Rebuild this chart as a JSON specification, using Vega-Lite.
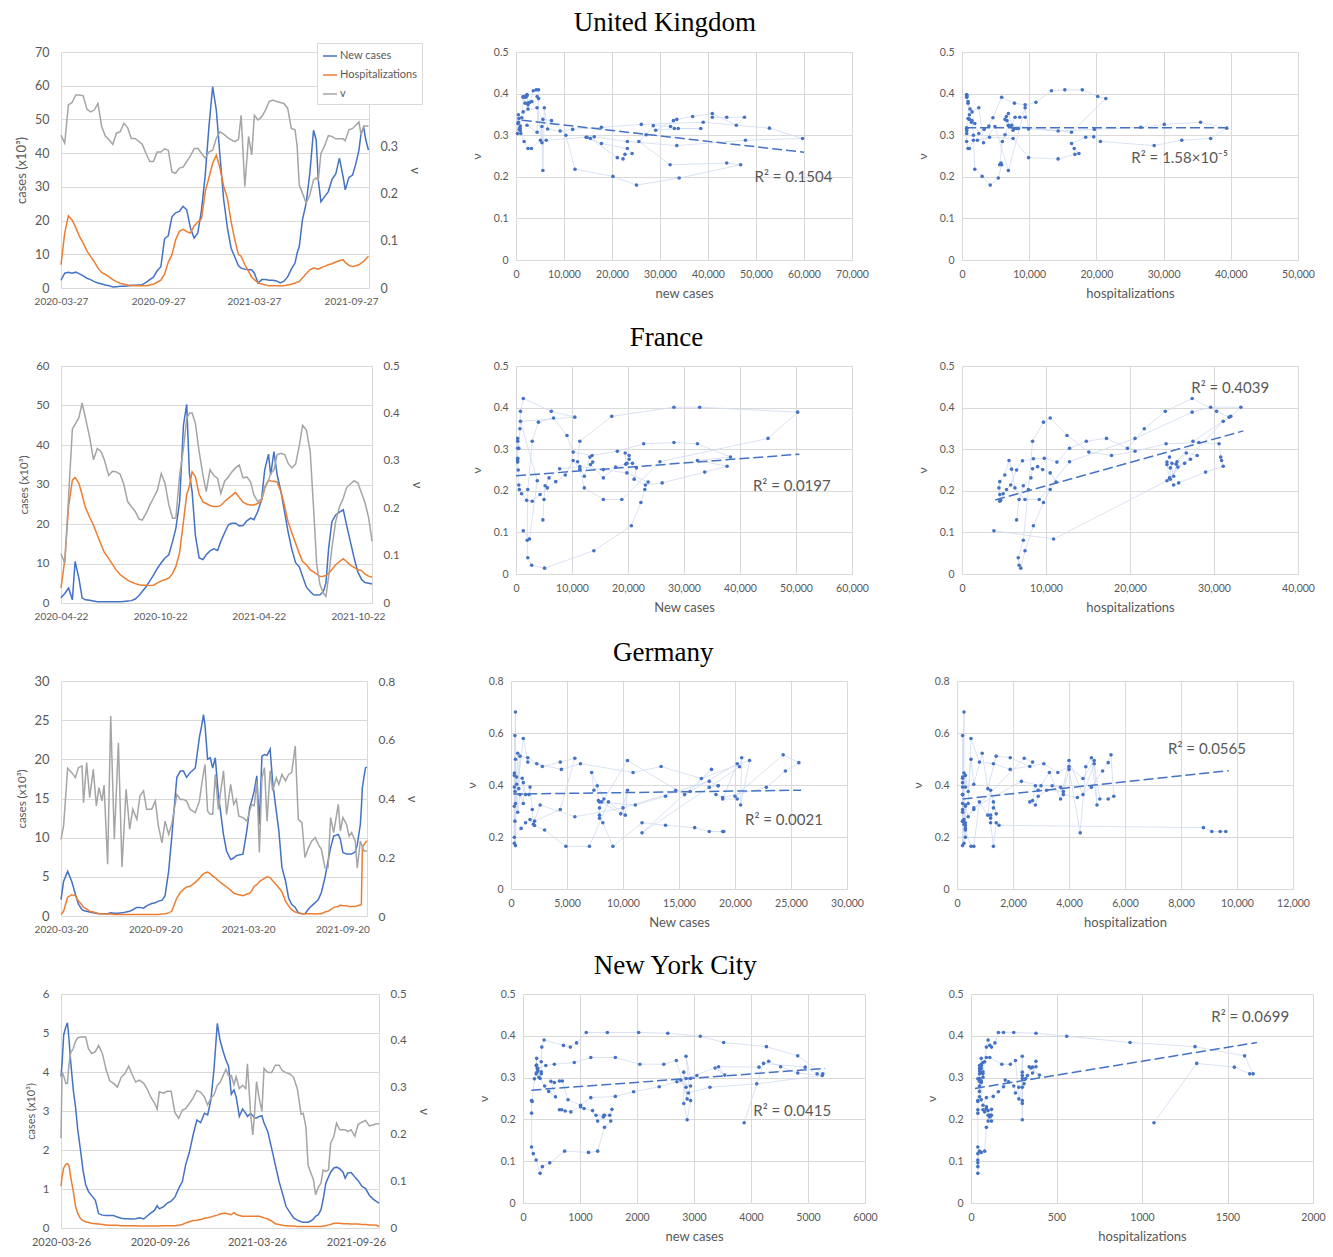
{
"$schema":"https://vega.github.io/schema/vega-lite/v6.json",
"padding":{"left":15,"top":8,"right":0,"bottom":0},
"spacing":18,
"resolve":{"scale":{"color":"independent"},"legend":{"color":"independent"}},
"config":{"view":{"stroke":null},"font":"Lato",
"axis":{"labelColor":"#595959","titleColor":"#595959","labelFontSize":10.5,"titleFontSize":13,"titleFontWeight":"normal","ticks":false,"gridColor":"#d9d9d9","domainColor":"#d9d9d9","labelFont":"Lato","titleFont":"Lato","labelOverlap":false,"labelFlush":false},
"legend":{"labelFont":"Lato","labelFontSize":11,"labelColor":"#595959"},
"title":{"font":"Liberation Serif","fontSize":27,"fontWeight":"normal","color":"#000000","anchor":"middle","offset":8}},
"datasets":{
"uk":[
{"d":"2020-03-27","c":2.3,"h":6.9,"v":0.324},{"d":"2020-04-03","c":4.4,"h":16.3,"v":0.307},{"d":"2020-04-10","c":4.7,"h":21.4,"v":0.388},{"d":"2020-04-17","c":4.4,"h":20.2,"v":0.393},{"d":"2020-04-24","c":4.7,"h":17.9,"v":0.409},{"d":"2020-05-01","c":4.2,"h":15.3,"v":0.409},{"d":"2020-05-08","c":3.6,"h":13.3,"v":0.407},{"d":"2020-05-15","c":2.9,"h":11.0,"v":0.379},{"d":"2020-05-22","c":2.5,"h":9.4,"v":0.373},{"d":"2020-05-29","c":1.9,"h":7.8,"v":0.377},{"d":"2020-06-05","c":1.5,"h":5.9,"v":0.391},{"d":"2020-06-12","c":1.2,"h":4.6,"v":0.342},{"d":"2020-06-19","c":0.9,"h":4.0,"v":0.322},{"d":"2020-06-26","c":0.7,"h":3.3,"v":0.314},{"d":"2020-07-03","c":0.3,"h":2.5,"v":0.304},{"d":"2020-07-10","c":0.4,"h":1.9,"v":0.328},{"d":"2020-07-17","c":0.5,"h":1.4,"v":0.331},{"d":"2020-07-24","c":0.5,"h":1.1,"v":0.349},{"d":"2020-07-31","c":0.6,"h":0.9,"v":0.340},{"d":"2020-08-07","c":0.8,"h":0.7,"v":0.317},{"d":"2020-08-14","c":0.8,"h":0.7,"v":0.317},{"d":"2020-08-21","c":0.9,"h":0.7,"v":0.311},{"d":"2020-08-28","c":1.0,"h":0.7,"v":0.304},{"d":"2020-09-04","c":1.7,"h":0.7,"v":0.285},{"d":"2020-09-11","c":2.5,"h":0.9,"v":0.268},{"d":"2020-09-18","c":3.2,"h":1.1,"v":0.268},{"d":"2020-09-25","c":5.1,"h":1.7,"v":0.288},{"d":"2020-10-02","c":6.3,"h":2.3,"v":0.288},{"d":"2020-10-09","c":14.6,"h":4.1,"v":0.295},{"d":"2020-10-16","c":15.5,"h":7.6,"v":0.292},{"d":"2020-10-23","c":21.1,"h":9.9,"v":0.246},{"d":"2020-10-30","c":22.3,"h":14.3,"v":0.243},{"d":"2020-11-06","c":22.7,"h":16.8,"v":0.254},{"d":"2020-11-13","c":24.2,"h":17.4,"v":0.256},{"d":"2020-11-20","c":23.2,"h":16.7,"v":0.268},{"d":"2020-11-27","c":17.8,"h":16.3,"v":0.280},{"d":"2020-12-04","c":14.8,"h":18.4,"v":0.295},{"d":"2020-12-11","c":16.3,"h":19.6,"v":0.296},{"d":"2020-12-18","c":23.2,"h":20.6,"v":0.285},{"d":"2020-12-25","c":33.5,"h":28.6,"v":0.275},{"d":"2021-01-01","c":47.8,"h":32.7,"v":0.288},{"d":"2021-01-08","c":59.7,"h":37.0,"v":0.292},{"d":"2021-01-15","c":52.8,"h":39.4,"v":0.317},{"d":"2021-01-22","c":39.0,"h":35.5,"v":0.331},{"d":"2021-01-29","c":26.1,"h":30.1,"v":0.326},{"d":"2021-02-05","c":17.8,"h":26.6,"v":0.319},{"d":"2021-02-12","c":11.8,"h":19.7,"v":0.314},{"d":"2021-02-19","c":9.2,"h":14.3,"v":0.310},{"d":"2021-02-26","c":6.6,"h":9.9,"v":0.315},{"d":"2021-03-03","c":5.9,"h":9.4,"v":0.366},{"d":"2021-03-10","c":5.6,"h":6.9,"v":0.215},{"d":"2021-03-17","c":5.4,"h":4.9,"v":0.321},{"d":"2021-03-23","c":5.4,"h":3.2,"v":0.282},{"d":"2021-03-28","c":4.4,"h":2.5,"v":0.366},{"d":"2021-04-04","c":1.5,"h":1.5,"v":0.356},{"d":"2021-04-11","c":2.5,"h":1.2,"v":0.363},{"d":"2021-04-18","c":2.5,"h":0.9,"v":0.377},{"d":"2021-04-25","c":2.3,"h":0.7,"v":0.395},{"d":"2021-05-02","c":2.3,"h":0.7,"v":0.398},{"d":"2021-05-09","c":2.1,"h":0.7,"v":0.395},{"d":"2021-05-16","c":1.5,"h":0.7,"v":0.393},{"d":"2021-05-23","c":2.0,"h":0.7,"v":0.391},{"d":"2021-05-30","c":3.3,"h":0.9,"v":0.381},{"d":"2021-06-06","c":5.6,"h":1.1,"v":0.338},{"d":"2021-06-13","c":7.4,"h":1.5,"v":0.335},{"d":"2021-06-17","c":10.4,"h":1.7,"v":0.300},{"d":"2021-06-21","c":12.3,"h":1.9,"v":0.218},{"d":"2021-06-27","c":20.2,"h":3.0,"v":0.201},{"d":"2021-07-04","c":25.1,"h":4.2,"v":0.180},{"d":"2021-07-11","c":34.0,"h":5.4,"v":0.197},{"d":"2021-07-18","c":46.8,"h":5.9,"v":0.229},{"d":"2021-07-23","c":43.9,"h":5.8,"v":0.233},{"d":"2021-07-27","c":32.1,"h":5.6,"v":0.229},{"d":"2021-08-01","c":25.6,"h":6.0,"v":0.285},{"d":"2021-08-08","c":27.1,"h":6.4,"v":0.301},{"d":"2021-08-15","c":28.6,"h":6.9,"v":0.323},{"d":"2021-08-22","c":32.2,"h":7.2,"v":0.321},{"d":"2021-08-29","c":33.8,"h":7.7,"v":0.316},{"d":"2021-09-05","c":38.5,"h":8.1,"v":0.316},{"d":"2021-09-12","c":33.0,"h":8.4,"v":0.316},{"d":"2021-09-16","c":29.1,"h":7.6,"v":0.312},{"d":"2021-09-23","c":32.8,"h":6.7,"v":0.335},{"d":"2021-09-30","c":33.5,"h":6.4,"v":0.338},{"d":"2021-10-06","c":36.8,"h":6.6,"v":0.345},{"d":"2021-10-12","c":40.9,"h":6.9,"v":0.352},{"d":"2021-10-16","c":45.9,"h":7.4,"v":0.324},{"d":"2021-10-21","c":47.6,"h":7.9,"v":0.343},{"d":"2021-10-25","c":43.9,"h":8.6,"v":0.343},{"d":"2021-10-30","c":40.9,"h":9.4,"v":0.343}
],
"fr":[
{"d":"2020-04-22","c":1.3,"h":3.8,"v":0.104},{"d":"2020-04-29","c":2.4,"h":10.9,"v":0.084},{"d":"2020-05-06","c":3.8,"h":24.4,"v":0.224},{"d":"2020-05-13","c":0.8,"h":31.1,"v":0.367},{"d":"2020-05-18","c":10.5,"h":31.8,"v":0.377},{"d":"2020-05-25","c":6.3,"h":30.3,"v":0.391},{"d":"2020-05-31","c":1.3,"h":27.4,"v":0.422},{"d":"2020-06-06","c":0.8,"h":24.2,"v":0.391},{"d":"2020-06-14","c":0.7,"h":21.7,"v":0.349},{"d":"2020-06-21","c":0.5,"h":19.7,"v":0.302},{"d":"2020-06-28","c":0.3,"h":17.2,"v":0.326},{"d":"2020-07-05","c":0.3,"h":14.8,"v":0.319},{"d":"2020-07-11","c":0.3,"h":12.8,"v":0.302},{"d":"2020-07-19","c":0.3,"h":11.3,"v":0.269},{"d":"2020-07-26","c":0.3,"h":9.8,"v":0.278},{"d":"2020-08-01","c":0.3,"h":8.5,"v":0.277},{"d":"2020-08-09","c":0.3,"h":7.2,"v":0.272},{"d":"2020-08-16","c":0.4,"h":6.5,"v":0.250},{"d":"2020-08-23","c":0.5,"h":5.8,"v":0.214},{"d":"2020-08-30","c":0.6,"h":5.3,"v":0.203},{"d":"2020-09-06","c":1.0,"h":4.9,"v":0.193},{"d":"2020-09-13","c":1.9,"h":4.6,"v":0.177},{"d":"2020-09-19","c":2.9,"h":4.5,"v":0.175},{"d":"2020-09-27","c":4.3,"h":4.5,"v":0.191},{"d":"2020-10-03","c":5.6,"h":4.4,"v":0.207},{"d":"2020-10-10","c":7.1,"h":4.5,"v":0.222},{"d":"2020-10-17","c":8.8,"h":5.1,"v":0.238},{"d":"2020-10-24","c":10.2,"h":5.6,"v":0.273},{"d":"2020-10-31","c":11.4,"h":5.9,"v":0.252},{"d":"2020-11-07","c":12.2,"h":6.3,"v":0.207},{"d":"2020-11-14","c":15.6,"h":7.5,"v":0.179},{"d":"2020-11-20","c":18.9,"h":9.2,"v":0.179},{"d":"2020-11-27","c":25.7,"h":12.8,"v":0.270},{"d":"2020-12-04","c":45.0,"h":20.6,"v":0.326},{"d":"2020-12-10","c":50.3,"h":27.4,"v":0.389},{"d":"2020-12-15","c":32.8,"h":29.6,"v":0.401},{"d":"2020-12-20","c":28.2,"h":33.2,"v":0.401},{"d":"2020-12-26","c":17.1,"h":32.0,"v":0.379},{"d":"2021-01-02","c":11.4,"h":27.5,"v":0.319},{"d":"2021-01-09","c":11.0,"h":25.6,"v":0.270},{"d":"2021-01-15","c":12.2,"h":25.2,"v":0.235},{"d":"2021-01-22","c":13.2,"h":24.7,"v":0.281},{"d":"2021-01-29","c":13.7,"h":24.4,"v":0.269},{"d":"2021-02-05","c":13.3,"h":24.4,"v":0.263},{"d":"2021-02-11","c":15.6,"h":24.7,"v":0.231},{"d":"2021-02-18","c":17.8,"h":25.7,"v":0.257},{"d":"2021-02-25","c":19.8,"h":26.5,"v":0.266},{"d":"2021-03-03","c":20.2,"h":27.2,"v":0.276},{"d":"2021-03-10","c":20.2,"h":28.0,"v":0.285},{"d":"2021-03-17","c":19.5,"h":26.7,"v":0.291},{"d":"2021-03-24","c":19.6,"h":25.5,"v":0.264},{"d":"2021-03-31","c":20.8,"h":25.0,"v":0.266},{"d":"2021-04-07","c":21.5,"h":24.8,"v":0.255},{"d":"2021-04-13","c":21.1,"h":24.8,"v":0.228},{"d":"2021-04-20","c":23.1,"h":25.2,"v":0.214},{"d":"2021-04-27","c":26.1,"h":25.8,"v":0.219},{"d":"2021-05-03","c":33.7,"h":29.0,"v":0.245},{"d":"2021-05-10","c":37.7,"h":31.1,"v":0.259},{"d":"2021-05-14","c":32.4,"h":30.9,"v":0.273},{"d":"2021-05-20","c":38.3,"h":30.8,"v":0.281},{"d":"2021-05-26","c":32.4,"h":30.6,"v":0.313},{"d":"2021-06-02","c":28.2,"h":28.2,"v":0.316},{"d":"2021-06-09","c":22.8,"h":24.3,"v":0.313},{"d":"2021-06-15","c":18.1,"h":20.6,"v":0.295},{"d":"2021-06-22","c":13.6,"h":17.8,"v":0.285},{"d":"2021-06-29","c":10.2,"h":15.1,"v":0.293},{"d":"2021-07-06","c":9.1,"h":12.5,"v":0.333},{"d":"2021-07-12","c":6.7,"h":10.5,"v":0.375},{"d":"2021-07-19","c":4.0,"h":9.7,"v":0.365},{"d":"2021-07-26","c":2.9,"h":8.4,"v":0.319},{"d":"2021-08-01","c":2.1,"h":7.9,"v":0.203},{"d":"2021-08-07","c":2.0,"h":7.3,"v":0.081},{"d":"2021-08-13","c":2.1,"h":6.7,"v":0.039},{"d":"2021-08-19","c":2.8,"h":6.8,"v":0.021},{"d":"2021-08-24","c":5.1,"h":7.0,"v":0.014},{"d":"2021-08-29","c":13.9,"h":7.5,"v":0.056},{"d":"2021-09-04","c":20.6,"h":8.5,"v":0.116},{"d":"2021-09-11","c":22.3,"h":9.7,"v":0.172},{"d":"2021-09-18","c":23.0,"h":10.5,"v":0.203},{"d":"2021-09-25","c":23.6,"h":11.2,"v":0.221},{"d":"2021-10-01","c":19.8,"h":10.5,"v":0.243},{"d":"2021-10-08","c":15.6,"h":9.6,"v":0.251},{"d":"2021-10-15","c":11.4,"h":9.0,"v":0.258},{"d":"2021-10-22","c":7.8,"h":8.4,"v":0.253},{"d":"2021-10-29","c":5.9,"h":8.2,"v":0.231},{"d":"2021-11-04","c":5.2,"h":7.3,"v":0.212},{"d":"2021-11-11","c":5.0,"h":6.8,"v":0.179},{"d":"2021-11-17","c":4.8,"h":6.5,"v":0.130}
],
"de":[
{"d":"2020-03-20","c":2.1,"h":0.2,"v":0.261},{"d":"2020-03-25","c":4.4,"h":0.6,"v":0.306},{"d":"2020-04-02","c":5.7,"h":2.4,"v":0.503},{"d":"2020-04-10","c":4.4,"h":2.7,"v":0.488},{"d":"2020-04-17","c":2.8,"h":2.6,"v":0.471},{"d":"2020-04-23","c":1.5,"h":1.9,"v":0.505},{"d":"2020-04-30","c":0.8,"h":1.4,"v":0.511},{"d":"2020-05-03","c":0.7,"h":1.1,"v":0.386},{"d":"2020-05-09","c":0.6,"h":0.9,"v":0.522},{"d":"2020-05-15","c":0.5,"h":0.6,"v":0.403},{"d":"2020-05-22","c":0.4,"h":0.5,"v":0.499},{"d":"2020-05-28","c":0.35,"h":0.4,"v":0.375},{"d":"2020-06-02","c":0.3,"h":0.3,"v":0.437},{"d":"2020-06-08","c":0.3,"h":0.3,"v":0.392},{"d":"2020-06-12","c":0.3,"h":0.25,"v":0.446},{"d":"2020-06-19","c":0.3,"h":0.25,"v":0.176},{"d":"2020-06-25","c":0.4,"h":0.25,"v":0.681},{"d":"2020-07-02","c":0.35,"h":0.2,"v":0.261},{"d":"2020-07-10","c":0.35,"h":0.2,"v":0.590},{"d":"2020-07-17","c":0.4,"h":0.2,"v":0.167},{"d":"2020-07-25","c":0.5,"h":0.2,"v":0.431},{"d":"2020-08-01","c":0.6,"h":0.2,"v":0.295},{"d":"2020-08-07","c":0.8,"h":0.2,"v":0.363},{"d":"2020-08-15","c":1.1,"h":0.2,"v":0.329},{"d":"2020-08-21","c":1.1,"h":0.2,"v":0.409},{"d":"2020-08-28","c":1.0,"h":0.2,"v":0.426},{"d":"2020-09-03","c":1.3,"h":0.2,"v":0.363},{"d":"2020-09-13","c":1.6,"h":0.2,"v":0.363},{"d":"2020-09-20","c":1.7,"h":0.2,"v":0.392},{"d":"2020-09-26","c":1.9,"h":0.2,"v":0.306},{"d":"2020-10-03","c":2.0,"h":0.25,"v":0.249},{"d":"2020-10-09","c":2.6,"h":0.3,"v":0.323},{"d":"2020-10-16","c":5.7,"h":0.4,"v":0.278},{"d":"2020-10-22","c":10.0,"h":0.6,"v":0.312},{"d":"2020-11-01","c":17.7,"h":2.3,"v":0.414},{"d":"2020-11-08","c":18.5,"h":3.0,"v":0.397},{"d":"2020-11-14","c":18.5,"h":3.4,"v":0.397},{"d":"2020-11-20","c":17.7,"h":3.7,"v":0.391},{"d":"2020-11-27","c":18.3,"h":3.8,"v":0.363},{"d":"2020-12-07","c":18.9,"h":4.3,"v":0.352},{"d":"2020-12-15","c":22.8,"h":4.8,"v":0.391},{"d":"2020-12-20","c":24.5,"h":5.2,"v":0.454},{"d":"2020-12-23","c":25.7,"h":5.4,"v":0.486},{"d":"2020-12-26","c":24.3,"h":5.5,"v":0.516},{"d":"2020-12-31","c":20.0,"h":5.6,"v":0.357},{"d":"2021-01-05","c":20.2,"h":5.4,"v":0.346},{"d":"2021-01-10","c":18.9,"h":5.1,"v":0.346},{"d":"2021-01-15","c":20.2,"h":4.9,"v":0.482},{"d":"2021-01-21","c":15.5,"h":4.5,"v":0.363},{"d":"2021-01-31","c":10.4,"h":4.0,"v":0.494},{"d":"2021-02-06","c":8.3,"h":3.7,"v":0.346},{"d":"2021-02-14","c":7.2,"h":3.3,"v":0.448},{"d":"2021-02-20","c":7.4,"h":2.9,"v":0.380},{"d":"2021-02-25","c":7.7,"h":2.8,"v":0.397},{"d":"2021-03-02","c":7.8,"h":2.7,"v":0.340},{"d":"2021-03-10","c":7.9,"h":2.6,"v":0.335},{"d":"2021-03-18","c":11.1,"h":2.8,"v":0.323},{"d":"2021-03-23","c":13.8,"h":2.9,"v":0.357},{"d":"2021-03-27","c":14.7,"h":3.2,"v":0.380},{"d":"2021-04-01","c":16.0,"h":3.8,"v":0.375},{"d":"2021-04-06","c":17.9,"h":4.0,"v":0.460},{"d":"2021-04-11","c":11.7,"h":4.4,"v":0.216},{"d":"2021-04-16","c":20.4,"h":4.6,"v":0.470},{"d":"2021-04-21","c":20.6,"h":4.8,"v":0.505},{"d":"2021-04-26","c":20.5,"h":5.0,"v":0.323},{"d":"2021-05-02","c":21.3,"h":4.9,"v":0.494},{"d":"2021-05-07","c":17.0,"h":4.5,"v":0.425},{"d":"2021-05-14","c":13.4,"h":4.0,"v":0.471},{"d":"2021-05-19","c":10.9,"h":3.6,"v":0.448},{"d":"2021-05-25","c":6.2,"h":3.1,"v":0.482},{"d":"2021-06-01","c":4.5,"h":1.9,"v":0.460},{"d":"2021-06-07","c":2.3,"h":1.3,"v":0.482},{"d":"2021-06-13","c":1.5,"h":0.8,"v":0.488},{"d":"2021-06-20","c":1.1,"h":0.5,"v":0.579},{"d":"2021-06-26","c":0.4,"h":0.4,"v":0.329},{"d":"2021-07-03","c":0.3,"h":0.3,"v":0.318},{"d":"2021-07-09","c":0.3,"h":0.3,"v":0.199},{"d":"2021-07-16","c":0.9,"h":0.3,"v":0.233},{"d":"2021-07-22","c":1.3,"h":0.3,"v":0.255},{"d":"2021-07-29","c":1.7,"h":0.25,"v":0.267},{"d":"2021-08-04","c":2.1,"h":0.3,"v":0.244},{"d":"2021-08-10","c":3.0,"h":0.3,"v":0.227},{"d":"2021-08-17","c":4.9,"h":0.5,"v":0.164},{"d":"2021-08-23","c":7.0,"h":0.6,"v":0.164},{"d":"2021-08-28","c":8.7,"h":0.8,"v":0.335},{"d":"2021-09-03","c":10.2,"h":1.1,"v":0.284},{"d":"2021-09-12","c":10.4,"h":1.2,"v":0.380},{"d":"2021-09-16","c":9.8,"h":1.4,"v":0.289},{"d":"2021-09-21","c":8.1,"h":1.3,"v":0.335},{"d":"2021-09-28","c":7.9,"h":1.3,"v":0.312},{"d":"2021-10-03","c":7.9,"h":1.2,"v":0.272},{"d":"2021-10-08","c":7.9,"h":1.2,"v":0.284},{"d":"2021-10-15","c":8.2,"h":1.2,"v":0.255},{"d":"2021-10-19","c":9.1,"h":1.3,"v":0.164},{"d":"2021-10-25","c":11.7,"h":1.4,"v":0.255},{"d":"2021-10-27","c":13.8,"h":1.5,"v":0.245},{"d":"2021-10-29","c":16.4,"h":8.8,"v":0.236},{"d":"2021-11-01","c":17.7,"h":9.1,"v":0.221},{"d":"2021-11-04","c":18.9,"h":9.4,"v":0.221},{"d":"2021-11-07","c":19.0,"h":9.6,"v":0.221}
],
"ny":[
{"d":"2020-03-26","c":3.88,"h":1.07,"v":0.192},{"d":"2020-03-28","c":4.22,"h":1.32,"v":0.334},{"d":"2020-03-31","c":4.95,"h":1.54,"v":0.325},{"d":"2020-04-04","c":5.16,"h":1.63,"v":0.309},{"d":"2020-04-07","c":5.26,"h":1.65,"v":0.309},{"d":"2020-04-10","c":4.82,"h":1.60,"v":0.352},{"d":"2020-04-13","c":4.27,"h":1.31,"v":0.374},{"d":"2020-04-18","c":3.52,"h":0.93,"v":0.384},{"d":"2020-04-22","c":3.11,"h":0.56,"v":0.399},{"d":"2020-04-26","c":2.54,"h":0.38,"v":0.406},{"d":"2020-05-01","c":2.03,"h":0.25,"v":0.408},{"d":"2020-05-06","c":1.48,"h":0.19,"v":0.408},{"d":"2020-05-11","c":1.11,"h":0.16,"v":0.408},{"d":"2020-05-16","c":0.94,"h":0.14,"v":0.383},{"d":"2020-05-22","c":0.83,"h":0.12,"v":0.373},{"d":"2020-05-29","c":0.71,"h":0.11,"v":0.377},{"d":"2020-06-04","c":0.37,"h":0.10,"v":0.390},{"d":"2020-06-11","c":0.33,"h":0.09,"v":0.373},{"d":"2020-06-18","c":0.32,"h":0.08,"v":0.338},{"d":"2020-06-25","c":0.32,"h":0.07,"v":0.314},{"d":"2020-07-02","c":0.32,"h":0.07,"v":0.309},{"d":"2020-07-09","c":0.28,"h":0.07,"v":0.301},{"d":"2020-07-16","c":0.25,"h":0.06,"v":0.322},{"d":"2020-07-23","c":0.24,"h":0.06,"v":0.330},{"d":"2020-07-30","c":0.24,"h":0.06,"v":0.346},{"d":"2020-08-05","c":0.23,"h":0.06,"v":0.329},{"d":"2020-08-12","c":0.24,"h":0.06,"v":0.312},{"d":"2020-08-19","c":0.26,"h":0.05,"v":0.316},{"d":"2020-08-27","c":0.23,"h":0.05,"v":0.309},{"d":"2020-09-02","c":0.30,"h":0.05,"v":0.298},{"d":"2020-09-09","c":0.38,"h":0.05,"v":0.280},{"d":"2020-09-16","c":0.45,"h":0.05,"v":0.267},{"d":"2020-09-21","c":0.57,"h":0.05,"v":0.254},{"d":"2020-09-25","c":0.49,"h":0.05,"v":0.291},{"d":"2020-10-03","c":0.55,"h":0.06,"v":0.288},{"d":"2020-10-10","c":0.64,"h":0.06,"v":0.292},{"d":"2020-10-17","c":0.69,"h":0.06,"v":0.292},{"d":"2020-10-24","c":0.79,"h":0.06,"v":0.247},{"d":"2020-10-31","c":1.01,"h":0.07,"v":0.234},{"d":"2020-11-07","c":1.19,"h":0.09,"v":0.252},{"d":"2020-11-13","c":1.62,"h":0.13,"v":0.255},{"d":"2020-11-20","c":1.94,"h":0.16,"v":0.266},{"d":"2020-11-27","c":2.39,"h":0.19,"v":0.278},{"d":"2020-12-04","c":2.77,"h":0.20,"v":0.294},{"d":"2020-12-11","c":2.70,"h":0.22,"v":0.290},{"d":"2020-12-18","c":2.94,"h":0.25,"v":0.280},{"d":"2020-12-24","c":2.90,"h":0.26,"v":0.263},{"d":"2020-12-30","c":3.28,"h":0.28,"v":0.277},{"d":"2021-01-05","c":4.10,"h":0.31,"v":0.285},{"d":"2021-01-11","c":5.25,"h":0.33,"v":0.305},{"d":"2021-01-16","c":4.82,"h":0.36,"v":0.311},{"d":"2021-01-22","c":4.52,"h":0.38,"v":0.326},{"d":"2021-01-27","c":4.31,"h":0.38,"v":0.339},{"d":"2021-02-01","c":4.14,"h":0.36,"v":0.325},{"d":"2021-02-06","c":3.43,"h":0.34,"v":0.326},{"d":"2021-02-11","c":3.54,"h":0.40,"v":0.306},{"d":"2021-02-15","c":3.37,"h":0.35,"v":0.323},{"d":"2021-02-21","c":2.86,"h":0.32,"v":0.298},{"d":"2021-02-27","c":3.05,"h":0.30,"v":0.305},{"d":"2021-03-05","c":2.94,"h":0.30,"v":0.298},{"d":"2021-03-08","c":2.86,"h":0.30,"v":0.351},{"d":"2021-03-14","c":2.94,"h":0.30,"v":0.245},{"d":"2021-03-18","c":2.88,"h":0.30,"v":0.199},{"d":"2021-03-21","c":2.82,"h":0.30,"v":0.238},{"d":"2021-03-25","c":2.82,"h":0.30,"v":0.313},{"d":"2021-03-30","c":2.86,"h":0.30,"v":0.277},{"d":"2021-04-04","c":2.88,"h":0.28,"v":0.249},{"d":"2021-04-08","c":2.69,"h":0.26,"v":0.341},{"d":"2021-04-15","c":2.47,"h":0.23,"v":0.332},{"d":"2021-04-22","c":2.05,"h":0.18,"v":0.332},{"d":"2021-04-29","c":1.62,"h":0.11,"v":0.348},{"d":"2021-05-06","c":1.19,"h":0.09,"v":0.348},{"d":"2021-05-12","c":0.90,"h":0.07,"v":0.336},{"d":"2021-05-19","c":0.55,"h":0.06,"v":0.332},{"d":"2021-05-26","c":0.40,"h":0.05,"v":0.329},{"d":"2021-06-02","c":0.26,"h":0.05,"v":0.322},{"d":"2021-06-09","c":0.20,"h":0.04,"v":0.297},{"d":"2021-06-16","c":0.16,"h":0.04,"v":0.243},{"d":"2021-06-20","c":0.15,"h":0.04,"v":0.245},{"d":"2021-06-25","c":0.15,"h":0.04,"v":0.215},{"d":"2021-06-29","c":0.15,"h":0.04,"v":0.134},{"d":"2021-07-04","c":0.18,"h":0.04,"v":0.118},{"d":"2021-07-09","c":0.23,"h":0.04,"v":0.103},{"d":"2021-07-13","c":0.30,"h":0.04,"v":0.071},{"d":"2021-07-18","c":0.34,"h":0.04,"v":0.087},{"d":"2021-07-23","c":0.47,"h":0.04,"v":0.096},{"d":"2021-07-27","c":0.73,"h":0.05,"v":0.124},{"d":"2021-08-01","c":1.15,"h":0.06,"v":0.121},{"d":"2021-08-06","c":1.31,"h":0.08,"v":0.124},{"d":"2021-08-10","c":1.43,"h":0.09,"v":0.181},{"d":"2021-08-16","c":1.54,"h":0.12,"v":0.196},{"d":"2021-08-21","c":1.56,"h":0.12,"v":0.224},{"d":"2021-08-27","c":1.52,"h":0.12,"v":0.210},{"d":"2021-09-02","c":1.43,"h":0.11,"v":0.210},{"d":"2021-09-06","c":1.28,"h":0.11,"v":0.210},{"d":"2021-09-11","c":1.41,"h":0.11,"v":0.206},{"d":"2021-09-17","c":1.42,"h":0.10,"v":0.210},{"d":"2021-09-24","c":1.31,"h":0.10,"v":0.196},{"d":"2021-09-30","c":1.22,"h":0.10,"v":0.221},{"d":"2021-10-07","c":1.07,"h":0.09,"v":0.226},{"d":"2021-10-14","c":1.01,"h":0.09,"v":0.230},{"d":"2021-10-21","c":0.84,"h":0.08,"v":0.218},{"d":"2021-10-28","c":0.74,"h":0.08,"v":0.220},{"d":"2021-11-03","c":0.68,"h":0.07,"v":0.223},{"d":"2021-11-08","c":0.64,"h":0.04,"v":0.223}
]
},
"vconcat":[
{"title":{"text":"United Kingdom","offset":6},"spacing":47,
"resolve":{"scale":{"color":"independent"},"legend":{"color":"independent"}},
"hconcat":[
{"width":308,"height":236,"data":{"name":"uk"},"resolve":{"scale":{"y":"independent"}},
"layer":[
{"mark":{"type":"line","strokeWidth":1.5},"encoding":{
"x":{"field":"d","type":"temporal","scale":{"type":"utc","domain":[{"year":2020,"month":3,"date":27,"utc":true},{"year":2021,"month":10,"date":31,"utc":true}]},"axis":{"title":null,"values":[{"year":2020,"month":3,"date":27,"utc":true},{"year":2020,"month":9,"date":27,"utc":true},{"year":2021,"month":3,"date":27,"utc":true},{"year":2021,"month":9,"date":27,"utc":true}],"labelExpr":"utcFormat(datum.value, '%Y-%m-%d')","grid":false,"labelFontSize":10,"labelPadding":8}},
"y":{"field":"c","type":"quantitative","scale":{"domain":[0,70],"nice":false},"axis":{"title":"cases (x10³)","values":[0,10,20,30,40,50,60,70],"grid":true,"labelPadding":12,"titlePadding":6,"labelFontSize":12.5,"titleFontSize":13}},
"color":{"datum":"New cases","type":"nominal","scale":{"domain":["New cases","Hospitalizations","v"],"range":["#4472C4","#ED7D31","#A5A5A5"]},"legend":{"orient":"none","legendX":256,"legendY":-9,"direction":"vertical","fillColor":"#ffffff","strokeColor":"#d9d9d9","padding":5,"symbolType":"stroke","symbolSize":196,"symbolStrokeWidth":1.5,"labelFontSize":11,"title":null,"rowPadding":6,"labelOffset":2}}}},
{"mark":{"type":"line","strokeWidth":1.5},"encoding":{"x":{"field":"d","type":"temporal"},"y":{"field":"h","type":"quantitative","scale":{"domain":[0,70],"nice":false},"axis":null},"color":{"datum":"Hospitalizations","type":"nominal"}}},
{"mark":{"type":"line","strokeWidth":1.5},"encoding":{"x":{"field":"d","type":"temporal"},"y":{"field":"v","type":"quantitative","scale":{"domain":[0,0.5],"nice":false},"axis":{"orient":"right","title":"ν","values":[0,0.1,0.2,0.3],"labelExpr":"format(datum.value, '~g')","grid":false,"labelPadding":11,"titlePadding":10,"labelFontSize":12.5}},"color":{"datum":"v","type":"nominal"}}}
]},
{"width":336,"height":208,
"layer":[
{"data":{"name":"uk"},"mark":{"type":"line","color":"#d0dbf0","strokeWidth":0.8},"encoding":{
"x":{"field":"c","type":"quantitative","scale":{"domain":[0,70],"nice":false},"axis":{"title":"new cases","values":[0,10,20,30,40,50,60,70],"labelExpr":"format(datum.value*1000, ',')","grid":true,"domain":true,"labelPadding":9,"titlePadding":8}},
"y":{"field":"v","type":"quantitative","scale":{"domain":[0,0.5],"nice":false},"axis":{"title":"ν","values":[0,0.1,0.2,0.3,0.4,0.5],"labelExpr":"format(datum.value, '~g')","grid":true,"domain":false,"labelPadding":8,"titlePadding":10,"titleFontSize":12}},
"order":{"field":"d","type":"temporal"}}},
{"data":{"name":"uk"},"mark":{"type":"circle","size":13,"color":"#4472C4","opacity":1},"encoding":{"x":{"field":"c","type":"quantitative"},"y":{"field":"v","type":"quantitative"}}},
{"data":{"values":[{"c":1.2,"v":0.336},{"c":60,"v":0.259}]},"mark":{"type":"line","color":"#4472C4","strokeDash":[10,4],"strokeWidth":1.5},"encoding":{"x":{"field":"c","type":"quantitative"},"y":{"field":"v","type":"quantitative"}}},
{"data":{"values":[{"c":49.7,"v":0.2,"t":"R² = 0.1504"}]},"mark":{"type":"text","align":"left","baseline":"middle","fontSize":15,"color":"#595959"},"encoding":{"x":{"field":"c","type":"quantitative"},"y":{"field":"v","type":"quantitative"},"text":{"field":"t"}}}
]},
{"width":336,"height":208,
"layer":[
{"data":{"name":"uk"},"mark":{"type":"line","color":"#d0dbf0","strokeWidth":0.8},"encoding":{
"x":{"field":"h","type":"quantitative","scale":{"domain":[0,50],"nice":false},"axis":{"title":"hospitalizations","values":[0,10,20,30,40,50],"labelExpr":"format(datum.value*1000, ',')","grid":true,"domain":true,"labelPadding":9,"titlePadding":8}},
"y":{"field":"v","type":"quantitative","scale":{"domain":[0,0.5],"nice":false},"axis":{"title":"ν","values":[0,0.1,0.2,0.3,0.4,0.5],"labelExpr":"format(datum.value, '~g')","grid":true,"domain":false,"labelPadding":8,"titlePadding":10,"titleFontSize":12}},
"order":{"field":"d","type":"temporal"}}},
{"data":{"name":"uk"},"mark":{"type":"circle","size":13,"color":"#4472C4","opacity":1},"encoding":{"x":{"field":"h","type":"quantitative"},"y":{"field":"v","type":"quantitative"}}},
{"data":{"values":[{"h":0.6,"v":0.318},{"h":39.2,"v":0.318}]},"mark":{"type":"line","color":"#4472C4","strokeDash":[10,4],"strokeWidth":1.5},"encoding":{"x":{"field":"h","type":"quantitative"},"y":{"field":"v","type":"quantitative"}}},
{"data":{"values":[{"h":25.2,"v":0.244,"t":"R² = 1.58×10⁻⁵"}]},"mark":{"type":"text","align":"left","baseline":"middle","fontSize":15,"color":"#595959"},"encoding":{"x":{"field":"h","type":"quantitative"},"y":{"field":"v","type":"quantitative"},"text":{"field":"t"}}}
]}
]},
{"title":{"text":"France"},"spacing":47,
"hconcat":[
{"width":311,"height":237,"data":{"name":"fr"},"resolve":{"scale":{"y":"independent"}},
"layer":[
{"mark":{"type":"line","strokeWidth":1.5,"color":"#4472C4"},"encoding":{
"x":{"field":"d","type":"temporal","scale":{"type":"utc","domain":[{"year":2020,"month":4,"date":22,"utc":true},{"year":2021,"month":11,"date":17,"utc":true}]},"axis":{"title":null,"values":[{"year":2020,"month":4,"date":22,"utc":true},{"year":2020,"month":10,"date":22,"utc":true},{"year":2021,"month":4,"date":22,"utc":true},{"year":2021,"month":10,"date":22,"utc":true}],"labelExpr":"utcFormat(datum.value, '%Y-%m-%d')","grid":false,"labelFontSize":10,"labelPadding":8}},
"y":{"field":"c","type":"quantitative","scale":{"domain":[0,60],"nice":false},"axis":{"title":"cases (x10³)","values":[0,10,20,30,40,50,60],"grid":true,"labelPadding":12,"titlePadding":6,"labelFontSize":11.5,"titleFontSize":11.5}}}},
{"mark":{"type":"line","strokeWidth":1.5,"color":"#ED7D31"},"encoding":{"x":{"field":"d","type":"temporal"},"y":{"field":"h","type":"quantitative","scale":{"domain":[0,60],"nice":false},"axis":null}}},
{"mark":{"type":"line","strokeWidth":1.5,"color":"#A5A5A5"},"encoding":{"x":{"field":"d","type":"temporal"},"y":{"field":"v","type":"quantitative","scale":{"domain":[0,0.5],"nice":false},"axis":{"orient":"right","title":"ν","values":[0,0.1,0.2,0.3,0.4,0.5],"labelExpr":"format(datum.value, '~g')","grid":false,"labelPadding":11,"titlePadding":10,"labelFontSize":11.5}}}}
]},
{"width":336,"height":208,
"layer":[
{"data":{"name":"fr"},"mark":{"type":"line","color":"#d0dbf0","strokeWidth":0.8},"encoding":{
"x":{"field":"c","type":"quantitative","scale":{"domain":[0,60],"nice":false},"axis":{"title":"New cases","values":[0,10,20,30,40,50,60],"labelExpr":"format(datum.value*1000, ',')","grid":true,"domain":true,"labelPadding":9,"titlePadding":8}},
"y":{"field":"v","type":"quantitative","scale":{"domain":[0,0.5],"nice":false},"axis":{"title":"ν","values":[0,0.1,0.2,0.3,0.4,0.5],"labelExpr":"format(datum.value, '~g')","grid":true,"domain":false,"labelPadding":8,"titlePadding":10,"titleFontSize":12}},
"order":{"field":"d","type":"temporal"}}},
{"data":{"name":"fr"},"mark":{"type":"circle","size":13,"color":"#4472C4","opacity":1},"encoding":{"x":{"field":"c","type":"quantitative"},"y":{"field":"v","type":"quantitative"}}},
{"data":{"values":[{"c":0,"v":0.236},{"c":50.6,"v":0.288}]},"mark":{"type":"line","color":"#4472C4","strokeDash":[10,4],"strokeWidth":1.5},"encoding":{"x":{"field":"c","type":"quantitative"},"y":{"field":"v","type":"quantitative"}}},
{"data":{"values":[{"c":42.3,"v":0.212,"t":"R² = 0.0197"}]},"mark":{"type":"text","align":"left","baseline":"middle","fontSize":15,"color":"#595959"},"encoding":{"x":{"field":"c","type":"quantitative"},"y":{"field":"v","type":"quantitative"},"text":{"field":"t"}}}
]},
{"width":336,"height":208,
"layer":[
{"data":{"name":"fr"},"mark":{"type":"line","color":"#d0dbf0","strokeWidth":0.8},"encoding":{
"x":{"field":"h","type":"quantitative","scale":{"domain":[0,40],"nice":false},"axis":{"title":"hospitalizations","values":[0,10,20,30,40],"labelExpr":"format(datum.value*1000, ',')","grid":true,"domain":true,"labelPadding":9,"titlePadding":8}},
"y":{"field":"v","type":"quantitative","scale":{"domain":[0,0.5],"nice":false},"axis":{"title":"ν","values":[0,0.1,0.2,0.3,0.4,0.5],"labelExpr":"format(datum.value, '~g')","grid":true,"domain":false,"labelPadding":8,"titlePadding":10,"titleFontSize":12}},
"order":{"field":"d","type":"temporal"}}},
{"data":{"name":"fr"},"mark":{"type":"circle","size":13,"color":"#4472C4","opacity":1},"encoding":{"x":{"field":"h","type":"quantitative"},"y":{"field":"v","type":"quantitative"}}},
{"data":{"values":[{"h":3.96,"v":0.178},{"h":33.5,"v":0.344}]},"mark":{"type":"line","color":"#4472C4","strokeDash":[10,4],"strokeWidth":1.5},"encoding":{"x":{"field":"h","type":"quantitative"},"y":{"field":"v","type":"quantitative"}}},
{"data":{"values":[{"h":27.3,"v":0.448,"t":"R² = 0.4039"}]},"mark":{"type":"text","align":"left","baseline":"middle","fontSize":15,"color":"#595959"},"encoding":{"x":{"field":"h","type":"quantitative"},"y":{"field":"v","type":"quantitative"},"text":{"field":"t"}}}
]}
]},
{"title":{"text":"Germany"},"spacing":47,
"hconcat":[
{"width":306,"height":235,"data":{"name":"de"},"resolve":{"scale":{"y":"independent"}},
"layer":[
{"mark":{"type":"line","strokeWidth":1.5,"color":"#4472C4"},"encoding":{
"x":{"field":"d","type":"temporal","scale":{"type":"utc","domain":[{"year":2020,"month":3,"date":20,"utc":true},{"year":2021,"month":11,"date":7,"utc":true}]},"axis":{"title":null,"values":[{"year":2020,"month":3,"date":20,"utc":true},{"year":2020,"month":9,"date":20,"utc":true},{"year":2021,"month":3,"date":20,"utc":true},{"year":2021,"month":9,"date":20,"utc":true}],"labelExpr":"utcFormat(datum.value, '%Y-%m-%d')","grid":false,"labelFontSize":10,"labelPadding":8}},
"y":{"field":"c","type":"quantitative","scale":{"domain":[0,30],"nice":false},"axis":{"title":"cases (x10³)","values":[0,5,10,15,20,25,30],"grid":true,"labelPadding":12,"titlePadding":6,"labelFontSize":13,"titleFontSize":11.5}}}},
{"mark":{"type":"line","strokeWidth":1.5,"color":"#ED7D31"},"encoding":{"x":{"field":"d","type":"temporal"},"y":{"field":"h","type":"quantitative","scale":{"domain":[0,30],"nice":false},"axis":null}}},
{"mark":{"type":"line","strokeWidth":1.5,"color":"#A5A5A5"},"encoding":{"x":{"field":"d","type":"temporal"},"y":{"field":"v","type":"quantitative","scale":{"domain":[0,0.8],"nice":false},"axis":{"orient":"right","title":"ν","values":[0,0.2,0.4,0.6,0.8],"labelExpr":"format(datum.value, '~g')","grid":false,"labelPadding":11,"titlePadding":10,"labelFontSize":12}}}}
]},
{"width":336,"height":208,
"layer":[
{"data":{"name":"de"},"mark":{"type":"line","color":"#d0dbf0","strokeWidth":0.8},"encoding":{
"x":{"field":"c","type":"quantitative","scale":{"domain":[0,30],"nice":false},"axis":{"title":"New cases","values":[0,5,10,15,20,25,30],"labelExpr":"format(datum.value*1000, ',')","grid":true,"domain":true,"labelPadding":9,"titlePadding":8}},
"y":{"field":"v","type":"quantitative","scale":{"domain":[0,0.8],"nice":false},"axis":{"title":"ν","values":[0,0.1,0.2,0.3,0.4,0.5,0.6,0.7,0.8],"labelExpr":"format(datum.value, '~g')","grid":true,"domain":false,"labelPadding":8,"titlePadding":10,"titleFontSize":12}},
"order":{"field":"d","type":"temporal"}}},
{"data":{"name":"de"},"mark":{"type":"circle","size":13,"color":"#4472C4","opacity":1},"encoding":{"x":{"field":"c","type":"quantitative"},"y":{"field":"v","type":"quantitative"}}},
{"data":{"values":[{"c":0.2,"v":0.365},{"c":25.9,"v":0.38}]},"mark":{"type":"line","color":"#4472C4","strokeDash":[10,4],"strokeWidth":1.5},"encoding":{"x":{"field":"c","type":"quantitative"},"y":{"field":"v","type":"quantitative"}}},
{"data":{"values":[{"c":20.9,"v":0.266,"t":"R² = 0.0021"}]},"mark":{"type":"text","align":"left","baseline":"middle","fontSize":15,"color":"#595959"},"encoding":{"x":{"field":"c","type":"quantitative"},"y":{"field":"v","type":"quantitative"},"text":{"field":"t"}}}
]},
{"width":336,"height":208,
"layer":[
{"data":{"name":"de"},"mark":{"type":"line","color":"#d0dbf0","strokeWidth":0.8},"encoding":{
"x":{"field":"h","type":"quantitative","scale":{"domain":[0,12],"nice":false},"axis":{"title":"hospitalization","values":[0,2,4,6,8,10,12],"labelExpr":"format(datum.value*1000, ',')","grid":true,"domain":true,"labelPadding":9,"titlePadding":8}},
"y":{"field":"v","type":"quantitative","scale":{"domain":[0,0.8],"nice":false},"axis":{"title":"ν","values":[0,0.1,0.2,0.3,0.4,0.5,0.6,0.7,0.8],"labelExpr":"format(datum.value, '~g')","grid":true,"domain":false,"labelPadding":8,"titlePadding":10,"titleFontSize":12}},
"order":{"field":"d","type":"temporal"}}},
{"data":{"name":"de"},"mark":{"type":"circle","size":13,"color":"#4472C4","opacity":1},"encoding":{"x":{"field":"h","type":"quantitative"},"y":{"field":"v","type":"quantitative"}}},
{"data":{"values":[{"h":0.2,"v":0.346},{"h":9.7,"v":0.455}]},"mark":{"type":"line","color":"#4472C4","strokeDash":[10,4],"strokeWidth":1.5},"encoding":{"x":{"field":"h","type":"quantitative"},"y":{"field":"v","type":"quantitative"}}},
{"data":{"values":[{"h":7.54,"v":0.538,"t":"R² = 0.0565"}]},"mark":{"type":"text","align":"left","baseline":"middle","fontSize":15,"color":"#595959"},"encoding":{"x":{"field":"h","type":"quantitative"},"y":{"field":"v","type":"quantitative"},"text":{"field":"t"}}}
]}
]},
{"title":{"text":"New York City"},"spacing":47,
"hconcat":[
{"width":318,"height":234,"data":{"name":"ny"},"resolve":{"scale":{"y":"independent"}},
"layer":[
{"mark":{"type":"line","strokeWidth":1.5,"color":"#4472C4"},"encoding":{
"x":{"field":"d","type":"temporal","scale":{"type":"utc","domain":[{"year":2020,"month":3,"date":26,"utc":true},{"year":2021,"month":11,"date":8,"utc":true}]},"axis":{"title":null,"values":[{"year":2020,"month":3,"date":26,"utc":true},{"year":2020,"month":9,"date":26,"utc":true},{"year":2021,"month":3,"date":26,"utc":true},{"year":2021,"month":9,"date":26,"utc":true}],"labelExpr":"utcFormat(datum.value, '%Y-%m-%d')","grid":false,"labelFontSize":11,"labelPadding":8}},
"y":{"field":"c","type":"quantitative","scale":{"domain":[0,6],"nice":false},"axis":{"title":"cases (x10³)","values":[0,1,2,3,4,5,6],"grid":true,"labelPadding":12,"titlePadding":6,"labelFontSize":11.5,"titleFontSize":11}}}},
{"mark":{"type":"line","strokeWidth":1.5,"color":"#ED7D31"},"encoding":{"x":{"field":"d","type":"temporal"},"y":{"field":"h","type":"quantitative","scale":{"domain":[0,6],"nice":false},"axis":null}}},
{"mark":{"type":"line","strokeWidth":1.5,"color":"#A5A5A5"},"encoding":{"x":{"field":"d","type":"temporal"},"y":{"field":"v","type":"quantitative","scale":{"domain":[0,0.5],"nice":false},"axis":{"orient":"right","title":"ν","values":[0,0.1,0.2,0.3,0.4,0.5],"labelExpr":"format(datum.value, '~g')","grid":false,"labelPadding":11,"titlePadding":10,"labelFontSize":11.5}}}}
]},
{"width":342,"height":209,
"layer":[
{"data":{"name":"ny"},"mark":{"type":"line","color":"#d0dbf0","strokeWidth":0.8},"encoding":{
"x":{"field":"c","type":"quantitative","scale":{"domain":[0,6],"nice":false},"axis":{"title":"new cases","values":[0,1,2,3,4,5,6],"labelExpr":"format(datum.value*1000, 'd')","grid":true,"domain":true,"labelPadding":9,"titlePadding":8}},
"y":{"field":"v","type":"quantitative","scale":{"domain":[0,0.5],"nice":false},"axis":{"title":"ν","values":[0,0.1,0.2,0.3,0.4,0.5],"labelExpr":"format(datum.value, '~g')","grid":true,"domain":false,"labelPadding":8,"titlePadding":10,"titleFontSize":12}},
"order":{"field":"d","type":"temporal"}}},
{"data":{"name":"ny"},"mark":{"type":"circle","size":13,"color":"#4472C4","opacity":1},"encoding":{"x":{"field":"c","type":"quantitative"},"y":{"field":"v","type":"quantitative"}}},
{"data":{"values":[{"c":0.147,"v":0.27},{"c":5.3,"v":0.322}]},"mark":{"type":"line","color":"#4472C4","strokeDash":[10,4],"strokeWidth":1.5},"encoding":{"x":{"field":"c","type":"quantitative"},"y":{"field":"v","type":"quantitative"}}},
{"data":{"values":[{"c":4.04,"v":0.22,"t":"R² = 0.0415"}]},"mark":{"type":"text","align":"left","baseline":"middle","fontSize":15,"color":"#595959"},"encoding":{"x":{"field":"c","type":"quantitative"},"y":{"field":"v","type":"quantitative"},"text":{"field":"t"}}}
]},
{"width":342,"height":209,
"layer":[
{"data":{"name":"ny"},"mark":{"type":"line","color":"#d0dbf0","strokeWidth":0.8},"encoding":{
"x":{"field":"h","type":"quantitative","scale":{"domain":[0,2],"nice":false},"axis":{"title":"hospitalizations","values":[0,0.5,1,1.5,2],"labelExpr":"format(datum.value*1000, 'd')","grid":true,"domain":true,"labelPadding":9,"titlePadding":8}},
"y":{"field":"v","type":"quantitative","scale":{"domain":[0,0.5],"nice":false},"axis":{"title":"ν","values":[0,0.1,0.2,0.3,0.4,0.5],"labelExpr":"format(datum.value, '~g')","grid":true,"domain":false,"labelPadding":8,"titlePadding":10,"titleFontSize":12}},
"order":{"field":"d","type":"temporal"}}},
{"data":{"name":"ny"},"mark":{"type":"circle","size":13,"color":"#4472C4","opacity":1},"encoding":{"x":{"field":"h","type":"quantitative"},"y":{"field":"v","type":"quantitative"}}},
{"data":{"values":[{"h":0.023,"v":0.274},{"h":1.672,"v":0.384}]},"mark":{"type":"line","color":"#4472C4","strokeDash":[10,4],"strokeWidth":1.5},"encoding":{"x":{"field":"h","type":"quantitative"},"y":{"field":"v","type":"quantitative"}}},
{"data":{"values":[{"h":1.405,"v":0.444,"t":"R² = 0.0699"}]},"mark":{"type":"text","align":"left","baseline":"middle","fontSize":15,"color":"#595959"},"encoding":{"x":{"field":"h","type":"quantitative"},"y":{"field":"v","type":"quantitative"},"text":{"field":"t"}}}
]}
]}
]
}
